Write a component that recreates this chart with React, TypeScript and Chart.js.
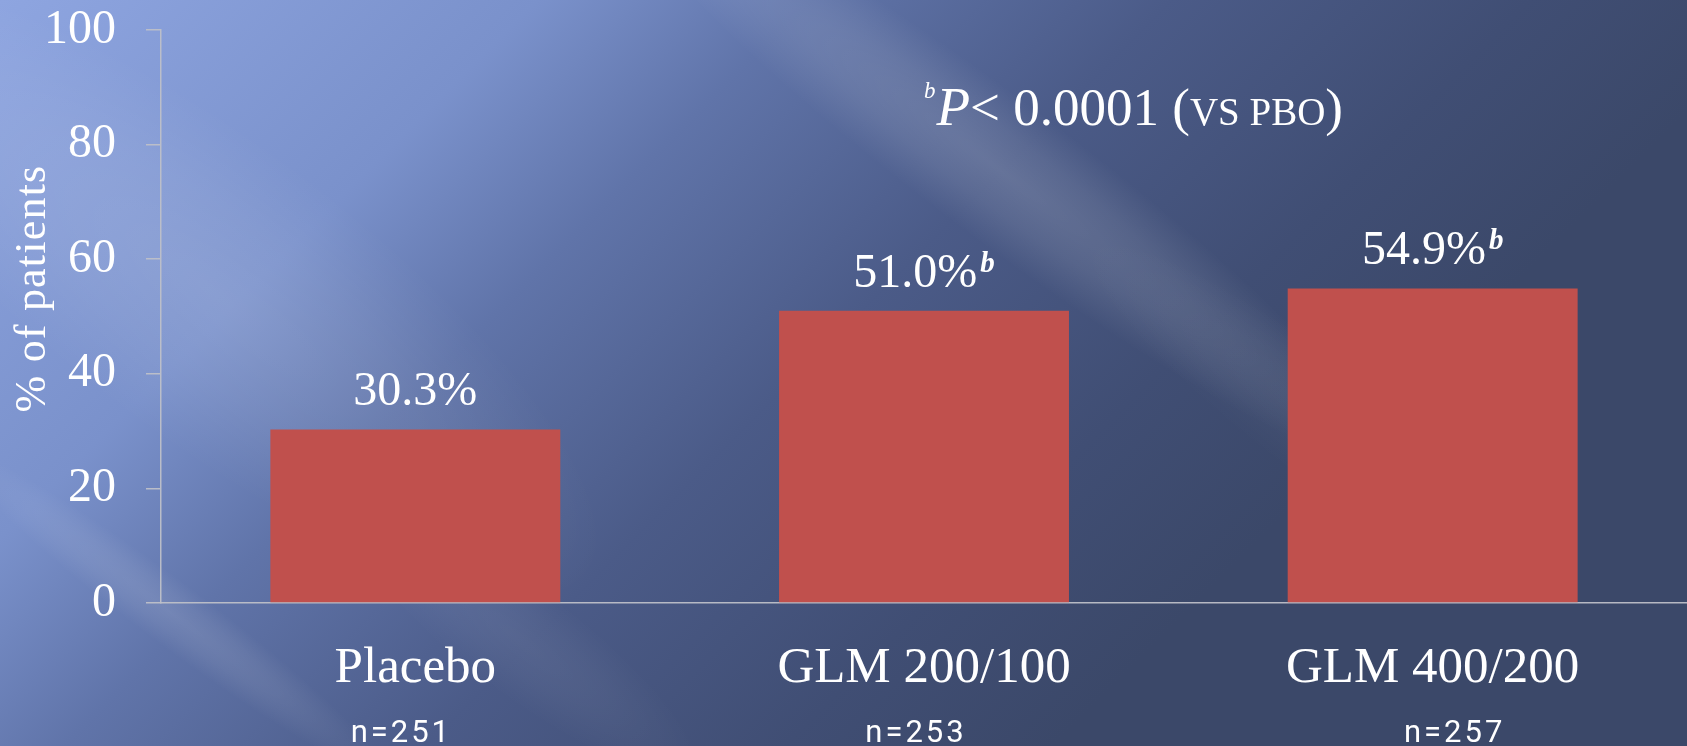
import { useEffect, useRef } from "react";
import { Chart, registerables } from "chart.js";

Chart.register(...registerables);

// ---- data ----
const categories = ["Placebo", "GLM 200/100", "GLM 400/200"];
const responders = [30.3, 51.0, 54.9];
const significance = ["", "b", "b"];
const sampleSizes = ["n=251", "n=253", "n=257"];
const yTickValues = [0, 20, 40, 60, 80, 100];

// ---- styling ----
const SERIF = '"Liberation Serif", "Times New Roman", serif';
const SANS = 'Roboto, "Liberation Sans", sans-serif';
const BAR_COLOR = "#c0504d";
const AXIS_COLOR = "rgba(190, 192, 200, 0.95)";
const TEXT_COLOR = "#ffffff";
const SAMPLE_SIZE_SHIFT = [-14, -8, 22];

type Run = { text: string; font: string; rise?: number; smallCaps?: boolean; gap?: number };

function measureRun(ctx: CanvasRenderingContext2D, r: Run): number {
  ctx.font = r.font;
  const anyCtx = ctx as any;
  if (r.smallCaps && "fontVariantCaps" in anyCtx) anyCtx.fontVariantCaps = "all-small-caps";
  const w = ctx.measureText(r.text).width;
  if ("fontVariantCaps" in anyCtx) anyCtx.fontVariantCaps = "normal";
  return w + (r.gap || 0);
}

function drawRuns(
  ctx: CanvasRenderingContext2D,
  runs: Run[],
  x: number,
  baseline: number,
  align: "left" | "center"
) {
  const widths = runs.map((r) => measureRun(ctx, r));
  const total = widths.reduce((a, b) => a + b, 0);
  let cx = align === "center" ? x - total / 2 : x;
  const anyCtx = ctx as any;
  ctx.textAlign = "left";
  ctx.textBaseline = "alphabetic";
  runs.forEach((r, i) => {
    ctx.font = r.font;
    if (r.smallCaps && "fontVariantCaps" in anyCtx) anyCtx.fontVariantCaps = "all-small-caps";
    ctx.fillText(r.text, cx + (r.gap || 0), baseline - (r.rise || 0));
    if ("fontVariantCaps" in anyCtx) anyCtx.fontVariantCaps = "normal";
    cx += widths[i];
  });
}

// soft elongated light streaks running down-right across the slide background
const streaks = [
  { cx: 1000, cy: 170, halfLen: 480, halfW: 70, alpha: 0.15 },
  { cx: 210, cy: 290, halfLen: 480, halfW: 150, alpha: 0.11 },
  { cx: 170, cy: 612, halfLen: 270, halfW: 32, alpha: 0.11 },
  { cx: 520, cy: 640, halfLen: 220, halfW: 55, alpha: 0.06 },
  { cx: 1320, cy: 420, halfLen: 300, halfW: 60, alpha: 0.04 },
];
const STREAK_ANGLE = Math.atan(0.75);

const backgroundPlugin = {
  id: "slideBackground",
  beforeDraw(chart: any) {
    const { ctx, width, height } = chart;
    ctx.save();
    const g = ctx.createLinearGradient(0, 0, 900, 900);
    g.addColorStop(0, "#8ea5e0");
    g.addColorStop(0.3, "#7a91cb");
    g.addColorStop(0.45, "#6074a9");
    g.addColorStop(0.65, "#4b5b88");
    g.addColorStop(0.85, "#404e74");
    g.addColorStop(1, "#3b4869");
    ctx.fillStyle = g;
    ctx.fillRect(0, 0, width, height);
    for (const s of streaks) {
      ctx.save();
      ctx.translate(s.cx, s.cy);
      ctx.rotate(STREAK_ANGLE);
      ctx.scale(s.halfLen / s.halfW, 1);
      const rg = ctx.createRadialGradient(0, 0, 0, 0, 0, s.halfW);
      rg.addColorStop(0, `rgba(255,255,255,${s.alpha})`);
      rg.addColorStop(0.5, `rgba(255,255,255,${s.alpha * 0.6})`);
      rg.addColorStop(1, "rgba(255,255,255,0)");
      ctx.fillStyle = rg;
      ctx.fillRect(-s.halfW, -s.halfW, s.halfW * 2, s.halfW * 2);
      ctx.restore();
    }
    ctx.restore();
  },
};

const annotationPlugin = {
  id: "slideAnnotations",
  afterDatasetsDraw(chart: any) {
    const { ctx, chartArea } = chart;
    const xScale = chart.scales.x;
    const meta = chart.getDatasetMeta(0);
    ctx.save();
    ctx.fillStyle = TEXT_COLOR;

    // value labels above bars
    meta.data.forEach((bar: any, i: number) => {
      const runs: Run[] = [{ text: `${responders[i].toFixed(1)}%`, font: `48px ${SERIF}` }];
      if (significance[i]) {
        runs.push({ text: significance[i], font: `italic bold 29px ${SERIF}`, rise: 15, gap: 3 });
      }
      drawRuns(ctx, runs, bar.x, bar.y - 24, "center");
    });

    // significance footnote
    drawRuns(
      ctx,
      [
        { text: "b", font: `italic 23px ${SERIF}`, rise: 27 },
        { text: "P", font: `italic 55px ${SERIF}`, gap: 1 },
        { text: "< 0.0001 (", font: `53px ${SERIF}` },
        { text: "vs PBO", font: `56px ${SERIF}`, smallCaps: true },
        { text: ")", font: `53px ${SERIF}` },
      ],
      (chartArea.left + chartArea.right) / 2,
      chartArea.top + 95,
      "left"
    );

    // y-axis title
    ctx.save();
    ctx.translate(33, (chartArea.top + chartArea.bottom) / 2 - 28);
    ctx.rotate(-Math.PI / 2);
    ctx.textAlign = "center";
    ctx.textBaseline = "middle";
    ctx.font = `44px ${SERIF}`;
    const anyCtx = ctx as any;
    if ("letterSpacing" in anyCtx) anyCtx.letterSpacing = "1.2px";
    ctx.fillText("% of patients", 0, 0);
    if ("letterSpacing" in anyCtx) anyCtx.letterSpacing = "0px";
    ctx.restore();

    // sample sizes under the category labels
    ctx.font = `31px ${SANS}`;
    if ("letterSpacing" in anyCtx) anyCtx.letterSpacing = "3px";
    ctx.textAlign = "center";
    ctx.textBaseline = "alphabetic";
    sampleSizes.forEach((label, i) => {
      ctx.fillText(label, xScale.getPixelForValue(i) + SAMPLE_SIZE_SHIFT[i], chartArea.bottom + 139);
    });
    if ("letterSpacing" in anyCtx) anyCtx.letterSpacing = "0px";
    ctx.restore();
  },
};

export default function App() {
  const canvasRef = useRef<HTMLCanvasElement | null>(null);

  useEffect(() => {
    document.body.style.margin = "0";
    const canvas = canvasRef.current;
    if (!canvas) return;
    const chart = new Chart(canvas, {
      type: "bar",
      data: {
        labels: categories,
        datasets: [
          {
            data: responders,
            backgroundColor: BAR_COLOR,
            borderWidth: 0,
            barPercentage: 0.57,
            categoryPercentage: 1,
          },
        ],
      },
      options: {
        responsive: false,
        animation: false,
        devicePixelRatio: 1,
        layout: { padding: { top: 30, left: 0, right: 0, bottom: 0 } },
        plugins: {
          legend: { display: false },
          tooltip: { enabled: false },
          title: { display: false },
        },
        scales: {
          x: {
            type: "category",
            grid: { display: true, drawOnChartArea: false, drawTicks: false },
            border: { display: true, color: AXIS_COLOR, width: 1.5 },
            ticks: {
              color: TEXT_COLOR,
              font: { family: SERIF, size: 51 },
              padding: 35,
              maxRotation: 0,
              autoSkip: false,
            },
            afterFit(scale: any) {
              scale.height = 143;
              scale.paddingLeft = 0;
              scale.paddingRight = 0;
            },
          },
          y: {
            min: 0,
            max: 100,
            afterBuildTicks(scale: any) {
              scale.ticks = yTickValues.map((v) => ({ value: v }));
            },
            grid: {
              drawOnChartArea: false,
              drawTicks: true,
              tickLength: 15,
              color: AXIS_COLOR,
              lineWidth: 1.5,
            },
            border: { display: true, color: AXIS_COLOR, width: 1.5 },
            ticks: {
              color: TEXT_COLOR,
              font: { family: SERIF, size: 48 },
              padding: 30,
            },
            afterFit(scale: any) {
              scale.width = 161;
              scale.paddingTop = 0;
              scale.paddingBottom = 0;
            },
          },
        },
      },
      plugins: [backgroundPlugin, annotationPlugin],
    });
    return () => chart.destroy();
  }, []);

  return (
    <div style={{ position: "fixed", left: 0, top: 0, width: 1687, height: 746 }}>
      <canvas ref={canvasRef} width={1687} height={746} style={{ display: "block" }} />
    </div>
  );
}
